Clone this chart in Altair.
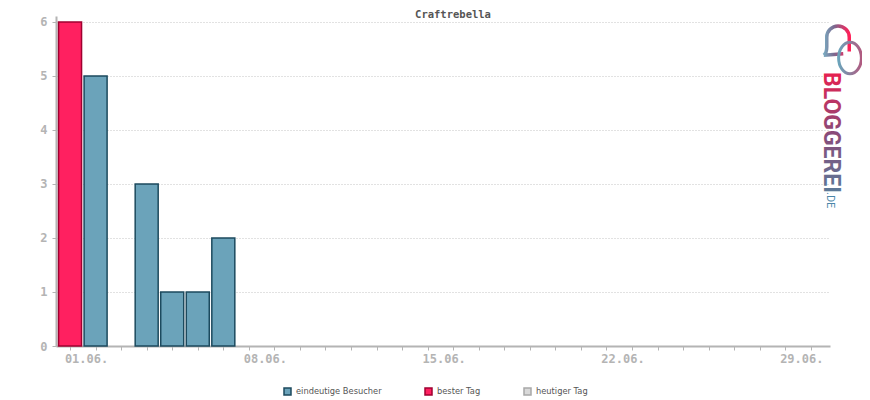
import altair as alt
import pandas as pd

# ---- data ----
days = [1, 2, 4, 5, 6, 7]
visitors = [6, 5, 3, 1, 1, 2]
kinds = ["bester Tag", "eindeutige Besucher", "eindeutige Besucher",
         "eindeutige Besucher", "eindeutige Besucher", "eindeutige Besucher"]
legend_names = ["eindeutige Besucher", "bester Tag", "heutiger Tag"]
fill_colors = ["#6ba3ba", "#ff2060", "#d9d9d9"]
stroke_colors = ["#1c4a5e", "#a00030", "#a8a8a8"]
x_ticks = list(range(1, 31))
y_ticks = [0, 1, 2, 3, 4, 5, 6]
title_text = "Craftrebella"

df = pd.DataFrame({"day": days, "visitors": visitors, "kind": kinds})

W, H = 774, 330
axis_col = "#b4b4b4"
mono = "DejaVu Sans Mono"

x_scale = alt.Scale(domain=[0.45, 30.75], nice=False, zero=False, padding=0)
y_scale = alt.Scale(domain=[0, 6.11], nice=False, padding=0)

leg = dict(title=None, orient="none", legendX=227, legendY=371,
           direction="horizontal", symbolType="square",
           symbolSize=49, symbolStrokeWidth=1.5,
           labelFont="DejaVu Sans", labelFontSize=8.3,
           labelColor="#555", labelOffset=4, columnPadding=40)

bars = alt.Chart(df).mark_bar(size=23, strokeWidth=1.5).encode(
    x=alt.X("day:Q", scale=x_scale,
            axis=alt.Axis(values=x_ticks, title=None, grid=False,
                          labelExpr="(datum.value - 1) % 7 == 0 ? ((datum.value < 10 ? '0' : '') + datum.value + '.06.') : ''",
                          labelOffset=16, labelPadding=3, labelFont=mono, labelFontSize=12,
                          labelFontWeight="bold", labelColor=axis_col,
                          domainColor=axis_col, domainWidth=2,
                          tickColor=axis_col, tickSize=4, tickWidth=1,
                          labelOverlap=False, labelFlush=False)),
    y=alt.Y("visitors:Q", scale=y_scale,
            axis=alt.Axis(values=y_ticks, title=None, grid=True,
                          gridColor="#c4c4c4", gridDash=[1, 2], gridWidth=1,
                          labelFont=mono, labelFontSize=12, labelFontWeight="bold",
                          labelColor=axis_col, labelPadding=5,
                          domainColor=axis_col, domainWidth=2,
                          tickColor=axis_col, tickSize=4, tickWidth=1)),
    color=alt.Color("kind:N", scale=alt.Scale(domain=legend_names, range=fill_colors),
                    legend=alt.Legend(**leg)),
    stroke=alt.Stroke("kind:N", scale=alt.Scale(domain=legend_names, range=stroke_colors),
                      legend=alt.Legend(**leg)),
)

title = alt.Chart(pd.DataFrame({"t": [title_text]})).mark_text(
    font=mono, fontSize=10.5, fontWeight="bold", color="#555", align="center", baseline="middle"
).encode(text="t:N", x=alt.value(397), y=alt.value(-1.5))

grad = alt.LinearGradient(gradient="linear", x1=0, y1=0, x2=1, y2=0,
                          stops=[alt.GradientStop(color="#e8204f", offset=0),
                                 alt.GradientStop(color="#8a4a78", offset=0.5),
                                 alt.GradientStop(color="#5a7a98", offset=1)])
logo = alt.Chart(pd.DataFrame({"t": ["BLOGGEREI"]})).mark_text(
    font="Roboto", fontSize=23, fontWeight="bold", angle=90, align="left",
    baseline="middle", fill=grad
).encode(text="t:N", x=alt.value(775), y=alt.value(56))

logo_de = alt.Chart(pd.DataFrame({"t": [".DE"]})).mark_text(
    font="Roboto", fontSize=11, angle=90, align="left", baseline="middle", color="#4a86a8"
).encode(text="t:N", x=alt.value(774), y=alt.value(176))

bgrad = alt.LinearGradient(gradient="linear", x1=0, y1=0, x2=1, y2=0,
                           stops=[alt.GradientStop(color="#7aaac0", offset=0),
                                  alt.GradientStop(color="#7a6a90", offset=0.4),
                                  alt.GradientStop(color="#ff2058", offset=1)])
rgrad = alt.LinearGradient(gradient="linear", x1=0, y1=0, x2=1, y2=0,
                           stops=[alt.GradientStop(color="#6aa3ba", offset=0),
                                  alt.GradientStop(color="#b05a80", offset=1)])
bubble = alt.Chart(pd.DataFrame({"t": ["b"]})).mark_point(
    shape="M -0.95 0.95 Q -0.75 0.8 -0.75 0.4 L -0.75 -0.25 A 0.75 0.75 0 0 1 0.75 -0.25 L 0.75 0.7 M -0.95 0.95 L 0.35 0.85",
    size=900, filled=False, strokeWidth=3.5, stroke=bgrad, opacity=1
).encode(x=alt.value(782), y=alt.value(25))

ring = alt.Chart(pd.DataFrame({"t": ["r"]})).mark_point(
    shape="M 0 -1 A 0.72 1 0 1 1 0 1 A 0.72 1 0 1 1 0 -1 Z",
    size=1000, filled=False, strokeWidth=3, stroke=rgrad, opacity=1
).encode(x=alt.value(794), y=alt.value(42))

chart = alt.layer(bars, title, bubble, ring, logo, logo_de).properties(
    width=W, height=H,
    autosize=alt.AutoSizeParams(type="none"),
    padding={"left": 48, "top": 8, "right": 32, "bottom": 54},
).configure(background="white").configure_view(stroke=None)

chart.save("out.html", embed_options={"renderer": "svg", "actions": False})
